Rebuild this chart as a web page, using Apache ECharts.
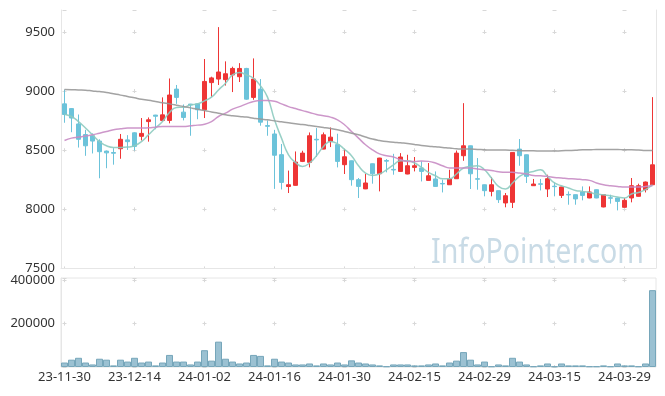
<!DOCTYPE html>
<html>
<head>
<meta charset="utf-8">
<script src="https://cdn.jsdelivr.net/npm/echarts@6/dist/echarts.min.js"></script>
<style>
  html, body {margin: 0; padding: 0; background: #fff;}
  #chart {width: 665px; height: 396px;}
</style>
</head>
<body>
<div id="chart"></div>
<script>
const dates = [
  '23-11-30','23-12-01','23-12-04','23-12-05','23-12-06','23-12-07','23-12-08','23-12-11','23-12-12','23-12-13',
  '23-12-14','23-12-15','23-12-18','23-12-19','23-12-20','23-12-21','23-12-22','23-12-26','23-12-27','23-12-28',
  '24-01-02','24-01-03','24-01-04','24-01-05','24-01-08','24-01-09','24-01-10','24-01-11','24-01-12','24-01-15',
  '24-01-16','24-01-17','24-01-18','24-01-19','24-01-22','24-01-23','24-01-24','24-01-25','24-01-26','24-01-29',
  '24-01-30','24-01-31','24-02-01','24-02-02','24-02-05','24-02-06','24-02-07','24-02-08','24-02-13','24-02-14',
  '24-02-15','24-02-16','24-02-19','24-02-20','24-02-21','24-02-22','24-02-23','24-02-26','24-02-27','24-02-28',
  '24-02-29','24-03-04','24-03-05','24-03-06','24-03-07','24-03-08','24-03-11','24-03-12','24-03-13','24-03-14',
  '24-03-15','24-03-18','24-03-19','24-03-20','24-03-21','24-03-22','24-03-25','24-03-26','24-03-27','24-03-28',
  '24-03-29','24-04-01','24-04-02','24-04-03','24-04-04'
];

const opens = [
  8890,8850,8720,8630,8620,8575,8490,8478,8510,8585,
  8645,8615,8740,8795,8750,8750,9015,8820,8888,8890,
  8840,9070,9100,9095,9135,9120,9190,8945,9015,8706,
  8635,8460,8190,8200,8403,8395,8590,8507,8572,8545,
  8375,8408,8248,8170,8383,8298,8410,8335,8318,8296,
  8352,8347,8242,8254,8216,8205,8256,8451,8535,8256,
  8205,8149,8155,8051,8056,8507,8459,8197,8213,8169,
  8193,8115,8123,8121,8144,8093,8163,8017,8095,8093,
  8014,8093,8107,8163,8205
];
const closes = [
  8800,8770,8590,8535,8575,8485,8475,8472,8590,8570,
  8530,8640,8755,8785,8797,8965,8945,8775,8880,8840,
  9080,9110,9160,9145,9190,9190,8930,9100,8735,8700,
  8455,8225,8205,8397,8473,8620,8585,8628,8608,8403,
  8442,8248,8191,8220,8298,8431,8405,8330,8440,8366,
  8366,8318,8281,8191,8212,8254,8473,8535,8298,8252,
  8155,8205,8079,8112,8479,8451,8276,8211,8209,8256,
  8189,8186,8119,8085,8115,8144,8093,8121,8091,8064,
  8073,8197,8197,8228,8374
];
const lows = [
  8730,8650,8520,8450,8470,8260,8345,8375,8425,8500,
  8495,8580,8570,8675,8740,8725,8890,8750,8620,8760,
  8770,8950,9050,9045,8990,9075,8925,8925,8705,8620,
  8170,8165,8135,8198,8397,8352,8440,8505,8524,8352,
  8296,8197,8093,8168,8214,8149,8310,8290,8316,8294,
  8318,8233,8240,8190,8140,8203,8254,8408,8169,8163,
  8107,8107,8051,8014,8008,8366,8220,8195,8157,8101,
  8107,8093,8036,8036,8073,8091,8091,8014,8045,7988,
  8012,8056,8105,8140,8203
];
const highs = [
  9010,8855,8800,8670,8640,8590,8495,8515,8635,8625,
  8650,8770,8775,8797,8945,9105,9050,8885,8890,8892,
  9270,9120,9540,9250,9205,9235,9195,9275,9100,8750,
  8670,8550,8325,8487,8493,8648,8685,8648,8690,8637,
  8507,8410,8262,8298,8385,8433,8423,8467,8473,8459,
  8440,8403,8389,8318,8248,8332,8495,8896,8537,8431,
  8207,8270,8157,8135,8481,8592,8461,8254,8254,8290,
  8225,8188,8149,8123,8191,8191,8165,8123,8121,8095,
  8093,8262,8214,8232,8947
];

const volumes = [
  20600,33700,42400,20600,11800,38100,33700,7400,33700,25000,
  42400,20600,25000,7400,20600,55600,25000,25000,11800,25000,
  77400,29300,116800,38100,25000,16200,20600,55600,51200,7400,
  38100,25000,20600,11800,11800,16200,7400,16200,11800,20600,
  11800,30600,20600,16200,11800,7400,3000,11800,11800,11800,
  7400,7400,11800,16200,7400,20600,29300,68700,33700,11800,
  25000,3000,11800,7400,42400,25000,11800,3000,7400,16200,
  3000,16200,7400,7400,7400,3000,3000,7400,3000,16200,
  7400,7400,3000,16200,354000
];

// moving averages
const ma5 = [
  8803,8783,8740,8685,8628,8571,8535,8521,8521,8524,
  8535,8571,8628,8685,8740,8817,8859,8862,8882,8890,
  8915,8947,9008,9065,9135,9155,9135,9107,9042,8947,
  8755,8600,8459,8394,8360,8389,8451,8529,8571,8552,
  8505,8451,8366,8304,8284,8296,8332,8374,8408,8408,
  8389,8352,8310,8281,8256,8256,8296,8347,8360,8366,
  8332,8262,8192,8169,8220,8276,8304,8318,8332,8276,
  8220,8197,8178,8157,8149,8140,8127,8121,8112,8101,
  8093,8127,8140,8163,8205
];
const ma20 = [
  8580,8600,8609,8617,8628,8642,8656,8670,8679,8685,
  8685,8685,8688,8693,8698,8698,8698,8698,8704,8710,
  8717,8740,8783,8811,8845,8867,8890,8910,8918,8918,
  8913,8890,8867,8850,8833,8817,8800,8789,8778,8755,
  8713,8656,8600,8544,8501,8467,8451,8440,8417,8403,
  8403,8406,8403,8389,8366,8347,8347,8347,8347,8338,
  8332,8326,8315,8310,8310,8304,8296,8284,8281,8276,
  8267,8262,8256,8254,8248,8242,8220,8205,8197,8191,
  8186,8186,8186,8191,8197
];
const ma60 = [
  9012,9010,9008,9006,9000,8994,8986,8975,8964,8952,
  8941,8930,8921,8910,8899,8890,8879,8867,8856,8845,
  8833,8822,8811,8797,8789,8783,8778,8769,8761,8755,
  8746,8738,8730,8721,8715,8707,8698,8690,8681,8670,
  8656,8642,8628,8609,8592,8580,8571,8566,8560,8555,
  8546,8538,8532,8527,8521,8516,8510,8507,8507,8504,
  8501,8499,8499,8499,8497,8495,8493,8493,8490,8490,
  8490,8493,8495,8497,8501,8501,8504,8504,8504,8504,
  8501,8501,8499,8495,8495
];

const candles = opens.map((o, i) => [o, closes[i], lows[i], highs[i]]);

const labelColor = '#333';
const edgeColor = '#e6e6e6';
const crossColor = '#d8d8d8';

const chart = echarts.init(document.getElementById('chart'));

const option = {
  animation: false,
  backgroundColor: '#fff',
  textStyle: {fontFamily: 'Noto Sans'},
  graphic: [{
    type: 'text',
    x: 431,
    y: 236,
    scaleX: 0.84,
    z: 0,
    style: {
      text: 'InfoPointer.com',
      fill: '#c9dbe6',
      font: '34px "Noto Sans"'
    }
  }],
  grid: [
    {left: 61, right: 9, top: 10, height: 258},
    {left: 61, right: 9, top: 278, height: 89, show: true, borderColor: edgeColor, borderWidth: 1}
  ],
  xAxis: [
    {
      type: 'category',
      gridIndex: 0,
      data: dates,
      position: 'top',
      boundaryGap: true,
      axisLine: {lineStyle: {color: edgeColor}},
      axisTick: {show: false},
      axisLabel: {show: false},
      splitLine: {
        show: true,
        interval: 9,
        alignWithLabel: true,
        lineStyle: {color: crossColor, type: [4, 55.13], dashOffset: 39.2}
      }
    },
    {
      type: 'category',
      gridIndex: 1,
      data: dates,
      boundaryGap: true,
      axisLine: {show: false},
      axisTick: {show: false},
      axisLabel: {interval: 9, color: labelColor, fontSize: 13, margin: 4},
      splitLine: {
        show: true,
        interval: 9,
        alignWithLabel: true,
        lineStyle: {color: crossColor, type: [4, 39.4], dashOffset: 43.2}
      }
    }
  ],
  yAxis: [
    {
      type: 'value',
      gridIndex: 0,
      min: 7500,
      max: 9685,
      interval: 500,
      axisLine: {show: true, lineStyle: {color: edgeColor}},
      axisTick: {show: false},
      axisLabel: {
        color: labelColor, fontSize: 13, margin: 6,
        formatter: v => (v % 500 === 0 ? v : '')
      },
      splitLine: {lineStyle: {color: crossColor, type: [4, 66], dashOffset: 68.5}}
    },
    {
      type: 'value',
      gridIndex: 0,
      position: 'right',
      min: 0,
      max: 1,
      axisLine: {show: true, lineStyle: {color: edgeColor}},
      axisTick: {show: false},
      axisLabel: {show: false},
      splitLine: {show: false}
    },
    {
      type: 'value',
      gridIndex: 1,
      min: 0,
      max: 410000,
      interval: 200000,
      axisLine: {show: true, lineStyle: {color: edgeColor}},
      axisTick: {show: false},
      axisLabel: {
        color: labelColor, fontSize: 13, margin: 6,
        formatter: v => (v > 0 && v % 200000 === 0 ? v : '')
      },
      splitLine: {lineStyle: {color: crossColor, type: [4, 66], dashOffset: 68.5}}
    }
  ],
  series: [
    {
      name: 'candle',
      type: 'candlestick',
      xAxisIndex: 0,
      yAxisIndex: 0,
      barWidth: 5,
      data: candles,
      itemStyle: {
        color: '#ee3535',
        color0: '#6cc3da',
        borderColor: '#ee3535',
        borderColor0: '#6cc3da',
        borderWidth: 1
      }
    },
    {
      name: 'MA5', type: 'line', xAxisIndex: 0, yAxisIndex: 0, data: ma5,
      symbol: 'none', smooth: true,
      lineStyle: {color: '#8dcbc0', width: 1.5, opacity: 0.9}
    },
    {
      name: 'MA20', type: 'line', xAxisIndex: 0, yAxisIndex: 0, data: ma20,
      symbol: 'none', smooth: true,
      lineStyle: {color: '#c88cc4', width: 1.5, opacity: 0.9}
    },
    {
      name: 'MA60', type: 'line', xAxisIndex: 0, yAxisIndex: 0, data: ma60,
      symbol: 'none', smooth: true,
      lineStyle: {color: '#999999', width: 1.5, opacity: 0.9}
    },
    {
      name: 'volume',
      type: 'bar',
      xAxisIndex: 1,
      yAxisIndex: 2,
      data: volumes,
      barCategoryGap: '0%',
      itemStyle: {color: '#9bc1d2', borderColor: '#76a6ba', borderWidth: 1}
    }
  ]
};

chart.setOption(option);
</script>
</body>
</html>
